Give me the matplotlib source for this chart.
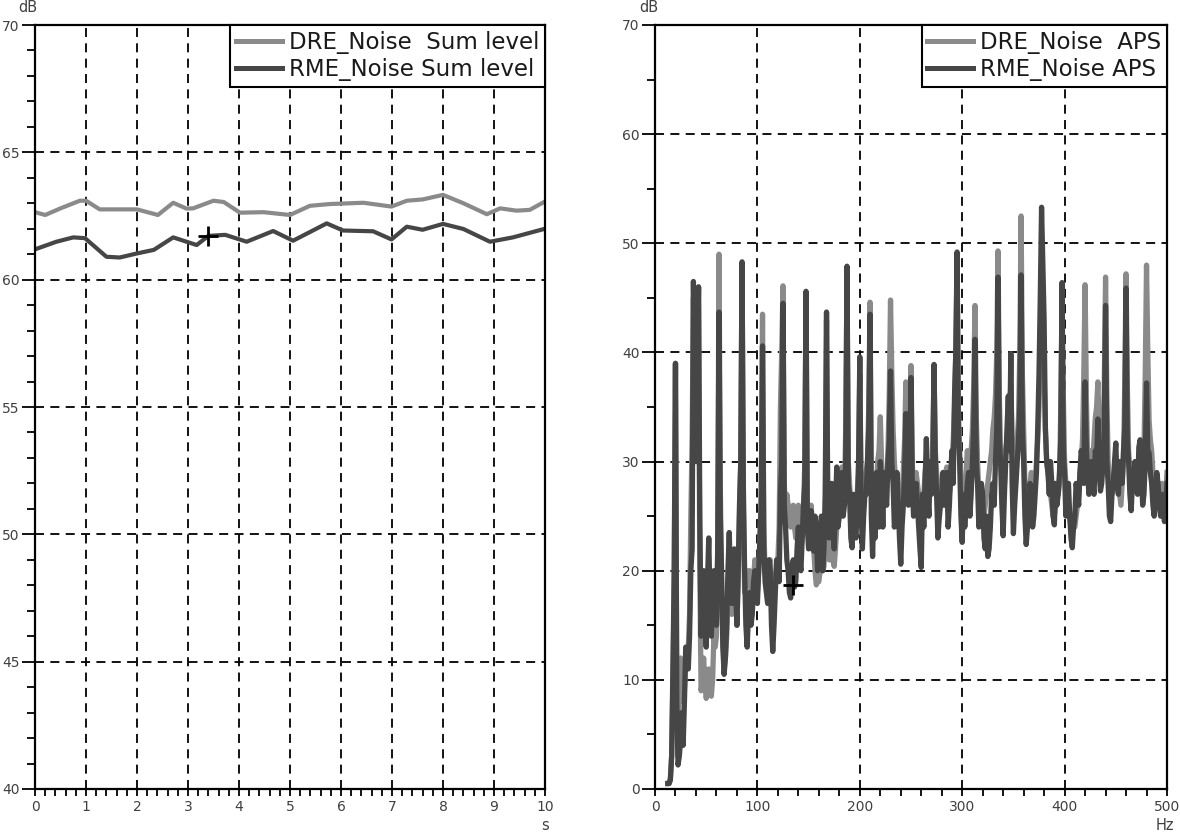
import matplotlib
matplotlib.use('Agg')
import matplotlib.pyplot as plt
import numpy as np
from matplotlib.ticker import MultipleLocator

# ---------------- data: left chart (Sum level over time) ----------------
dre_time_s = [0, 0.2, 0.5, 0.88, 1.0, 1.27, 1.6, 2.0, 2.41, 2.71, 2.97, 3.1, 3.5, 3.7,
              4.02, 4.48, 5.0, 5.39, 5.78, 6.44, 6.99, 7.29, 7.6, 8.0, 8.4, 8.86, 9.12,
              9.44, 9.7, 10.0]
dre_sum_db = [62.65, 62.54, 62.8, 63.1, 63.1, 62.76, 62.76, 62.76, 62.54, 63.02, 62.79,
              62.8, 63.1, 63.05, 62.63, 62.65, 62.54, 62.9, 62.97, 63.02, 62.87, 63.1,
              63.15, 63.33, 63.0, 62.57, 62.8, 62.71, 62.74, 63.07]
rme_time_s = [0, 0.42, 0.75, 0.98, 1.4, 1.66, 2.0, 2.33, 2.71, 3.17, 3.4, 3.73, 4.15,
              4.67, 5.06, 5.72, 6.04, 6.63, 6.99, 7.29, 7.6, 8.0, 8.4, 8.92, 9.37, 10.0]
rme_sum_db = [61.19, 61.49, 61.66, 61.63, 60.9, 60.87, 61.03, 61.17, 61.66, 61.36, 61.72,
              61.76, 61.49, 61.91, 61.53, 62.21, 61.93, 61.9, 61.58, 62.08, 61.96, 62.19,
              61.99, 61.49, 61.66, 62.0]
cursor_left = (3.4, 61.72)

# ---------------- data: right chart (APS spectrum) ----------------
# levels read at 12.5, 15, 17.5 ... 500 Hz
rme_aps_db = [
    0.5, 0.8, 11, 39, 2.2, 4.5, 4, 13, 11, 20,
    46.5, 30, 46, 14, 20, 13, 23, 14, 20, 15,
    43.7, 20, 10.5, 15, 23.5, 17, 22, 15, 26, 48.3,
    20, 13, 18, 16, 20, 17, 23, 40.6, 19, 17,
    20, 12.6, 18, 21, 27, 44.5, 24, 20, 17.5, 21,
    19, 24, 20, 26, 45.6, 22, 25.5, 21.8, 24, 21,
    25, 22, 43.7, 23, 28, 22, 29.5, 25, 29, 26,
    47.9, 27, 22.1, 24, 26, 39.6, 22, 27, 30, 43.5,
    21.3, 23, 26, 30, 24, 27, 30, 38.3, 28, 25,
    26, 20.6, 26, 34.4, 26, 37.7, 25, 28, 24, 20.3,
    24, 32.1, 25, 27, 38.9, 27, 24.7, 27, 26, 29,
    26, 31, 36, 49.2, 30, 22.6, 24, 28, 25, 30,
    41.2, 28, 25, 27, 22, 21.3, 24, 28, 30, 46.9,
    30, 23.2, 30, 36, 39.9, 23.4, 28, 32, 47.1, 30,
    22.4, 25, 27, 25, 29, 38, 53.3, 42.9, 30, 27,
    28, 24.2, 26, 29, 46.4, 28.9, 26, 25, 22.1, 25,
    27, 29, 30, 37.3, 28.9, 29, 28, 31, 33.9, 27.3,
    30, 44.3, 28, 24.5, 28, 31.7, 27, 29, 31, 45.9,
    30, 25.5, 29, 28, 31.3, 29, 27, 37.2, 30.8, 28,
    25, 29, 26, 27, 24.5, 28]
# levels read half-way between those frequencies (13.75, 16.25 ... 498.75 Hz)
rme_aps_mid_db = [
    0.5, 3, 20, 8, 3, 7, 8, 12, 14, 22,
    38, 38, 25, 18, 16, 19, 17, 18, 16, 22,
    25, 13, 12, 20, 19, 20, 18, 20, 30, 28,
    15, 16, 15, 19, 18, 20, 26, 22, 18, 21,
    15, 15, 21, 19, 30, 26, 21, 18, 20, 18.5,
    22, 21, 23, 28, 24, 24, 22, 25, 20, 23,
    20, 27, 25, 26, 24, 26, 24, 28, 25, 30,
    28, 23, 27, 23, 29, 26, 25, 27, 33, 25,
    26, 29, 24, 28, 29, 26, 32, 30, 24, 29,
    23, 24, 29, 27, 30, 28, 27, 26, 22, 27,
    28, 27, 30, 29, 30, 23, 26, 29, 27, 24,
    29, 28, 40, 33, 25, 27, 26, 29, 27, 33,
    30, 24, 28, 23, 25, 22, 27, 26, 33, 32,
    26, 27, 33, 31, 28, 26, 30, 35, 33, 25,
    24, 28, 24, 27, 33, 45, 48, 33, 29, 30,
    25, 28, 27, 32, 31, 25, 28, 23, 24, 28,
    26, 31, 28, 31, 27, 30, 27, 30, 29, 28,
    33, 30, 25, 27, 30, 28, 30, 28, 33, 32,
    27, 28, 30, 27, 32, 26, 30, 31, 29, 26,
    27, 28, 25, 26, 26]
dre_aps_db = [
    0.5, 1, 10, 39, 3, 12, 8, 12, 13, 25,
    45, 30, 46, 9, 12, 8.3, 11, 8.5, 14, 14,
    49, 18, 11, 14, 22, 16, 20, 15, 25, 48,
    18, 19, 20, 17, 21, 18, 23, 43.5, 20, 18,
    21, 18, 19, 21, 35, 46.1, 25, 26, 24, 26,
    23, 26, 22, 25, 45, 23, 26, 22, 18.7, 19,
    21, 20.4, 43, 21, 22, 20.4, 24, 27, 29.5, 27,
    47, 28, 24, 26, 27, 38, 25, 28, 30, 44.6,
    25, 26, 30, 34.1, 27, 26, 31, 44.8, 33, 28,
    27, 25, 29, 37.3, 28, 38.8, 27, 29, 27, 24,
    27, 30, 27, 28, 38, 29, 27, 26, 28, 29.5,
    27, 30, 35, 48, 31, 25, 27, 31, 29, 33,
    44.3, 30, 26, 24, 26, 28, 30, 33, 36, 49.3,
    31, 26, 31, 34, 37, 28, 30, 34, 52.5, 33,
    26, 28, 29, 27, 30, 35, 48, 38, 30, 28,
    26, 25, 27, 28, 44, 30, 27, 25, 24, 24,
    26, 29, 32, 46.2, 30, 31, 30, 34, 37.3, 30,
    31, 46.9, 30, 27, 28, 30, 28, 26, 30, 47.2,
    31, 27, 29, 30, 30, 28, 31, 48, 33.8, 31,
    27, 28, 27, 28, 26, 29]
dre_aps_mid_db = [
    0.5, 3, 18, 10, 10, 10, 9, 13, 16, 32,
    38, 38, 20, 10, 9.5, 9, 10, 10, 13, 22,
    28, 14, 12, 18, 19, 18, 18, 19, 30, 26,
    19, 20, 18, 19, 19, 20, 27, 24, 19, 20,
    19, 18, 20, 24, 40, 28, 27, 25, 25, 24,
    25, 24, 23, 30, 26, 25, 24, 20, 19, 20,
    20, 24, 25, 21, 21, 22, 26, 28, 28, 33,
    30, 26, 26, 26, 30, 27, 27, 29, 35, 28,
    27, 28, 31, 30, 27, 28, 36, 38, 30, 27,
    26, 27, 32, 32, 31, 30, 28, 28, 25, 26,
    29, 28, 28, 32, 31, 28, 26, 27, 29, 28,
    28, 32, 40, 35, 28, 26, 29, 30, 31, 37,
    34, 27, 25, 25, 27, 29, 31, 34, 40, 36,
    28, 28, 32, 35, 32, 29, 32, 40, 38, 28,
    27, 28, 28, 28, 32, 41, 42, 33, 29, 27,
    25, 26, 27, 35, 36, 28, 26, 24, 24, 25,
    27, 30, 38, 36, 30, 30, 32, 35, 33, 30,
    37, 36, 28, 27, 29, 29, 27, 28, 37, 37,
    29, 28, 29, 30, 29, 29, 38, 40, 32, 29,
    27, 27, 27, 27, 27]
cursor_right = (135, 18.7)

legend_left = ["DRE_Noise  Sum level", "RME_Noise Sum level"]
legend_right = ["DRE_Noise  APS", "RME_Noise APS"]

# frequency grid of the spectrum (1.25 Hz resolution)
freq_hz = np.arange(12.5, 500.01, 1.25)


def interleave(main, mid):
    out = np.empty(len(main) + len(mid))
    out[0::2] = main
    out[1::2] = mid
    return out


rme_full = interleave(rme_aps_db, rme_aps_mid_db)
dre_full = interleave(dre_aps_db, dre_aps_mid_db)

LIGHT = '#8a8a8a'
DARK = '#464646'
TICKC = '#404040'

fig = plt.figure(figsize=(11.8, 8.33), dpi=100)
W, H = 1180, 833
axL = fig.add_axes([35 / W, 1 - 789 / H, 510 / W, 764 / H])
axR = fig.add_axes([655 / W, 1 - 789 / H, 512 / W, 764 / H])

axL.plot(dre_time_s, dre_sum_db, color=LIGHT, lw=3.0, label=legend_left[0], zorder=3,
         solid_joinstyle='round')
axL.plot(rme_time_s, rme_sum_db, color=DARK, lw=3.0, label=legend_left[1], zorder=4,
         solid_joinstyle='round')
axL.plot(*cursor_left, marker='+', color='black', ms=15, mew=2, zorder=6)

axR.plot(freq_hz, dre_full, color=LIGHT, lw=3.8, label=legend_right[0], zorder=3)
axR.plot(freq_hz, rme_full, color=DARK, lw=3.8, label=legend_right[1], zorder=4)
axR.plot(*cursor_right, marker='+', color='black', ms=15, mew=2, zorder=6)

axL.set_xlim(0, 10)
axL.set_ylim(40, 70)
axL.xaxis.set_major_locator(MultipleLocator(1))
axL.xaxis.set_minor_locator(MultipleLocator(0.2))
axL.yaxis.set_major_locator(MultipleLocator(5))
axL.yaxis.set_minor_locator(MultipleLocator(1))

axR.set_xlim(0, 500)
axR.set_ylim(0, 70)
axR.xaxis.set_major_locator(MultipleLocator(100))
axR.xaxis.set_minor_locator(MultipleLocator(20))
axR.yaxis.set_major_locator(MultipleLocator(10))
axR.yaxis.set_minor_locator(MultipleLocator(5))

for ax in (axL, axR):
    ax.grid(True, which='major', color='black', linestyle=(0, (5, 3.5)), linewidth=1.3, zorder=1)
    ax.set_axisbelow(True)
    for sp in ax.spines.values():
        sp.set_linewidth(1.6)
        sp.set_color('black')
        sp.set_zorder(5)
    ax.tick_params(axis='y', which='major', direction='out', length=9.5, width=1.3,
                   color='black', labelcolor=TICKC, labelsize=10, pad=1.5)
    ax.tick_params(axis='y', which='minor', direction='out', length=5.5, width=1.3, color='black')
    ax.tick_params(axis='x', which='major', direction='out', length=5, width=1.3,
                   color='black', labelcolor=TICKC, labelsize=10, pad=3)
    ax.tick_params(axis='x', which='minor', direction='out', length=5, width=1.3, color='black')
    leg = ax.legend(loc='upper right', borderaxespad=0, fontsize=16.5, frameon=True,
                    fancybox=False, edgecolor='black', framealpha=1, handlelength=2.0,
                    handletextpad=0.3, borderpad=0.25, labelspacing=0.2)
    leg.get_frame().set_linewidth(1.5)
    leg.set_zorder(7)
    for t in leg.get_texts():
        t.set_color('#1a1a1a')
    for l in leg.get_lines():
        l.set_linewidth(3.6)

fig.text(28 / W, 1 - 8 / H, 'dB', ha='center', va='center', fontsize=10.5, color=TICKC)
fig.text(649 / W, 1 - 8 / H, 'dB', ha='center', va='center', fontsize=10.5, color=TICKC)
fig.text(545 / W, 1 - 826 / H, 's', ha='center', va='center', fontsize=10.5, color=TICKC)
fig.text(1165 / W, 1 - 826 / H, 'Hz', ha='center', va='center', fontsize=10.5, color=TICKC)

fig.savefig('out.png', dpi=100, facecolor='white')
